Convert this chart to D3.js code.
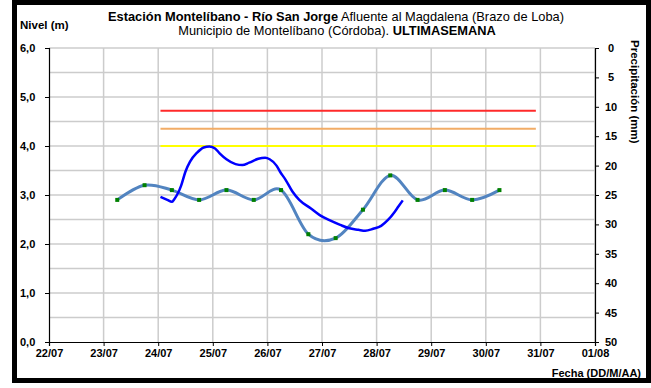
<!DOCTYPE html>
<html>
<head>
<meta charset="utf-8">
<script src="https://cdn.jsdelivr.net/npm/d3@7"></script>
<style>
  html, body { margin: 0; padding: 0; background: #fff; }
  svg { display: block; font-family: "Liberation Sans", Arial, sans-serif; }
  .tick text { font-weight: bold; fill: #000; }
</style>
</head>
<body>
<svg id="chart" width="651" height="388"></svg>
<script>
// Date axis labels (one per day)
const dayLabels = ["22/07", "23/07", "24/07", "25/07", "26/07", "27/07", "28/07", "29/07", "30/07", "31/07", "01/08"];
// Level axis ticks (m) and precipitation axis ticks (mm)
const levelTicks = [0, 1, 2, 3, 4, 5, 6];
const precipTicks = [0, 5, 10, 15, 20, 25, 30, 35, 40, 45, 50];

// Twice-daily level readings (m)
const readingTimes = ["23/07 06:00", "23/07 18:00", "24/07 06:00", "24/07 18:00", "25/07 06:00",
  "25/07 18:00", "26/07 06:00", "26/07 18:00", "27/07 06:00", "27/07 18:00", "28/07 06:00",
  "28/07 18:00", "29/07 06:00", "29/07 18:00", "30/07 06:00"];
const readingValues = [2.9, 3.2, 3.1, 2.9, 3.1, 2.9, 3.1, 2.2, 2.12, 2.7, 3.4, 2.9, 3.1, 2.9, 3.1];

// Sensor level record (m)
const sensorTimes = ["24/07 01:00", "24/07 04:00", "24/07 06:00", "24/07 07:00", "24/07 10:00",
  "24/07 12:00", "24/07 14:00", "24/07 17:00", "24/07 20:00", "24/07 22:30", "25/07 01:00",
  "25/07 03:00", "25/07 06:00", "25/07 10:00", "25/07 13:00", "25/07 16:00", "25/07 20:00",
  "25/07 23:00", "26/07 01:00", "26/07 04:00", "26/07 05:30", "26/07 08:00", "26/07 11:00",
  "26/07 14:00", "26/07 19:00", "26/07 23:00", "27/07 03:30", "27/07 08:00", "27/07 12:00",
  "27/07 16:00", "27/07 19:00", "27/07 22:30", "28/07 02:00", "28/07 05:00", "28/07 08:00",
  "28/07 09:30", "28/07 11:30"];
const sensorValues = [2.96, 2.90, 2.86, 2.91, 3.18, 3.48, 3.68, 3.86, 3.97, 3.99, 3.95,
  3.85, 3.73, 3.63, 3.61, 3.66, 3.74, 3.76, 3.73, 3.60, 3.48, 3.31, 3.07, 2.90, 2.73,
  2.59, 2.48, 2.39, 2.32, 2.29, 2.27, 2.31, 2.37, 2.49, 2.66, 2.76, 2.89];

// Alert thresholds (m)
const thresholdNames = ["roja", "naranja", "amarilla"];
const thresholdValues = [4.72, 4.35, 4.0];
const thresholdColors = ["#ff2a2a", "#f2ac66", "#ffff00"];
const thresholdSpan = ["24/07 01:00", "30/07 22:00"];

const parseDay = d3.timeParse("%d/%m");
const parseTime = d3.timeParse("%d/%m %H:%M");
const days = dayLabels.map(parseDay);

const svg = d3.select("#chart");
const plotLeft = 49, plotRight = 595, plotTop = 48, plotBottom = 342;

const x = d3.scaleTime().domain([days[0], days[days.length - 1]]).range([plotLeft, plotRight]);
const y = d3.scaleLinear().domain([0, 6]).range([plotBottom, plotTop]);
const yP = d3.scaleLinear().domain([0, 50]).range([plotTop, plotBottom]);

// Outer frame
svg.append("rect")
  .attr("x", 14.5).attr("y", 2.5).attr("width", 634).attr("height", 378)
  .attr("fill", "none").attr("stroke", "#000").attr("stroke-width", 5);

// Gridlines
const grid = svg.append("g").attr("stroke", "#cccccc").attr("stroke-width", 1.5);
d3.range(1, 13).map(i => i * 0.5).forEach(v => {
  grid.append("line").attr("x1", plotLeft).attr("x2", plotRight).attr("y1", y(v)).attr("y2", y(v));
});
days.slice(1).forEach(d => {
  grid.append("line").attr("x1", x(d)).attr("x2", x(d)).attr("y1", plotTop).attr("y2", plotBottom);
});

// Threshold lines
thresholdValues.forEach((v, i) => {
  svg.append("line")
    .attr("class", "umbral-" + thresholdNames[i])
    .attr("x1", x(parseTime(thresholdSpan[0]))).attr("x2", x(parseTime(thresholdSpan[1])))
    .attr("y1", y(v)).attr("y2", y(v))
    .attr("stroke", thresholdColors[i]).attr("stroke-width", 2);
});

// Twice-daily readings: smoothed line with markers
const readings = readingTimes.map((t, i) => ({ t: parseTime(t), v: readingValues[i] }));
svg.append("path")
  .datum(readings)
  .attr("fill", "none").attr("stroke", "#5284c0").attr("stroke-width", 3)
  .attr("d", d3.line().x(d => x(d.t)).y(d => y(d.v)).curve(d3.curveCatmullRom.alpha(0)));
svg.append("g").selectAll("rect").data(readings).join("rect")
  .attr("x", d => x(d.t) - 2).attr("y", d => y(d.v) - 2)
  .attr("width", 4).attr("height", 4).attr("fill", "#008000");

// Sensor record
const sensor = sensorTimes.map((t, i) => ({ t: parseTime(t), v: sensorValues[i] }));
svg.append("path")
  .datum(sensor)
  .attr("fill", "none").attr("stroke", "#0000ff").attr("stroke-width", 2.5)
  .attr("d", d3.line().x(d => x(d.t)).y(d => y(d.v)).curve(d3.curveMonotoneX));

// Axes
const fmtLevel = d => d.toFixed(1).replace(".", ",");
const gL = svg.append("g").attr("transform", `translate(${plotLeft},0)`)
  .call(d3.axisLeft(y).tickValues(levelTicks).tickFormat(fmtLevel).tickSize(4).tickPadding(12));
const gB = svg.append("g").attr("transform", `translate(0,${plotBottom})`)
  .call(d3.axisBottom(x).tickValues(days).tickFormat((d, i) => dayLabels[i]).tickSize(4).tickPadding(3));
const gR = svg.append("g").attr("transform", `translate(${plotRight},0)`)
  .call(d3.axisRight(yP).tickValues(precipTicks).tickSize(4).tickPadding(8));
[gL, gB, gR].forEach(g => {
  g.selectAll("path.domain").attr("stroke", "#000").attr("stroke-width", 1.2);
  g.selectAll(".tick line").attr("stroke", "#000");
  g.selectAll(".tick text").attr("font-size", 11).attr("font-family", "Liberation Sans, Arial, sans-serif");
});
gL.selectAll(".tick text").attr("text-anchor", "start").attr("x", -29);
gR.selectAll(".tick text").attr("text-anchor", "middle").attr("x", 16);

// Titles (set slightly wide)
const title = svg.append("text").attr("transform", "translate(336,21) scale(1.07,1)")
  .attr("text-anchor", "middle").attr("font-size", 12);
title.append("tspan").attr("font-weight", "bold").text("Estación Montelíbano  - Río San Jorge");
title.append("tspan").text(" Afluente al Magdalena (Brazo de Loba)");
const title2 = svg.append("text").attr("transform", "translate(337,35) scale(1.07,1)")
  .attr("text-anchor", "middle").attr("font-size", 12);
title2.append("tspan").text("Municipio de Montelíbano (Córdoba). ");
title2.append("tspan").attr("font-weight", "bold").text("ULTIMASEMANA");

svg.append("text").attr("x", 20).attr("y", 29)
  .attr("font-size", 11.5).attr("font-weight", "bold").text("Nivel (m)");

svg.append("text").attr("transform", "translate(631,40) rotate(90)")
  .attr("font-size", 11.5).attr("font-weight", "bold").text("Precipitación (mm)");

svg.append("text").attr("x", 641).attr("y", 377).attr("text-anchor", "end")
  .attr("font-size", 11).attr("font-weight", "bold").text("Fecha (DD/M/AA)");
</script>
</body>
</html>
